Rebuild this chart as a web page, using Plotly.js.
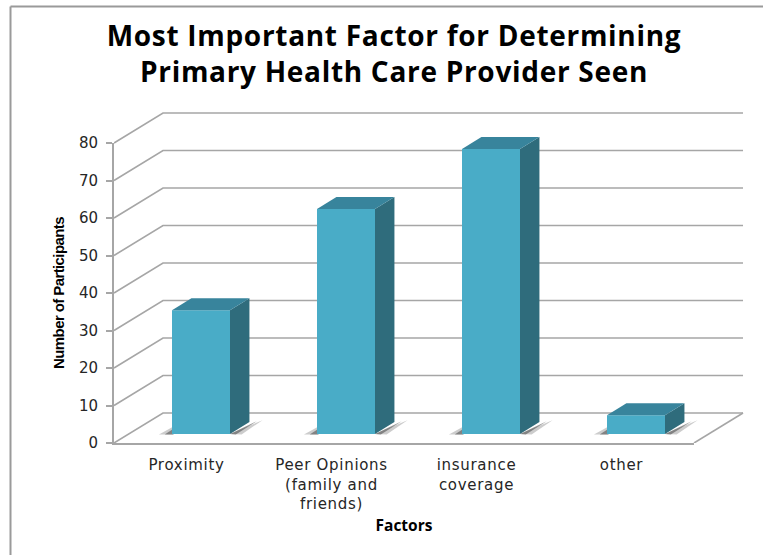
<!DOCTYPE html>
<html>
<head>
<meta charset="utf-8">
<script src="https://cdn.plot.ly/plotly-3.0.1.min.js"></script>
<style>html,body{margin:0;padding:0;background:#fff;overflow:hidden}</style>
</head>
<body>
<div id="chart" style="width:763px;height:555px"></div>
<script>
var categories = ["Proximity", "Peer Opinions<br>(family and<br>friends)", "insurance<br>coverage", "other"];
var values = [33, 60, 76, 5];
var yTicks = [0, 10, 20, 30, 40, 50, 60, 70, 80];
var positions = [0, 1, 2, 3];
var titleLines = ["Most Important Factor for Determining", "Primary Health Care Provider Seen"];

// Oblique projection of the depth axis, in axis units
var wallDx = 0.338, wallDy = 8;
var barOffset = 0.1, barBase = 2.4, barHalf = 0.2, barDx = 0.134, barDy = 3.2;
var xRange = [-0.5, 3.5], yRange = [0, 80];
var gridColor = "#a6a6a6", front = "#49acc7", side = "#2f6c7c", top_ = "#38849c";
var shadowLight = "rgba(170,170,170,0.6)", shadowDark = "rgba(90,90,90,0.65)";

// Pixel frame
var W = 763, H = 555, mL = 114, mR = 13, mT = 100, mB = 112;
var pw = W - mL - mR, ph = H - mT - mB;
var axisW = 580, axisH = 300;
var wideX = [xRange[0], xRange[0] + (xRange[1] - xRange[0]) * pw / axisW];
var wideY = [yRange[0], yRange[1] * ph / axisH];

function px(x) { return (x - mL) / pw; }
function py(y) { return (H - mB - y) / ph; }

function poly(xs, ys, color, xa, ya) {
  return {type: "scatter", mode: "lines", x: xs.concat(xs[0]), y: ys.concat(ys[0]), fill: "toself",
    fillcolor: color, line: {width: 0, color: color}, hoverinfo: "skip", showlegend: false, xaxis: xa, yaxis: ya};
}

var traces = [];
// Carrier of the visible axes (invisible markers)
traces.push({type: "scatter", mode: "markers", x: positions, y: values, marker: {opacity: 0},
  hoverinfo: "skip", showlegend: false, xaxis: "x", yaxis: "y"});

// Wall gridlines: on the wide frame, below the bars
yTicks.forEach(function (v) {
  traces.push({type: "scatter", mode: "lines", showlegend: false, hoverinfo: "skip", xaxis: "x2", yaxis: "y2",
    x: [xRange[0], xRange[0] + wallDx, xRange[1] + wallDx],
    y: [v, v + wallDy, v + wallDy], line: {color: gridColor, width: 1.6}});
});
traces.push({type: "scatter", mode: "lines", showlegend: false, hoverinfo: "skip", xaxis: "x2", yaxis: "y2",
  x: [xRange[1], xRange[1] + wallDx], y: [0, wallDy], line: {color: gridColor, width: 1.6}});

// Floor shadows
positions.forEach(function (p, i) {
  var l = p + barOffset - barHalf, r = p + barOffset + barHalf, b = barBase;
  traces.push(poly([l - 0.09, l + 0.01, l + 0.01], [b - 0.1, b + 2.0, b - 0.1], shadowLight, "x2", "y2"));
  traces.push(poly([l - 0.05, l + 0.01, l + 0.01], [b - 0.1, b + 1.4, b - 0.1], shadowDark, "x2", "y2"));
  traces.push(poly([r, r + barDx + 0.09, r + 0.08], [b, b + barDy + 0.5, b - 0.1], shadowLight, "x2", "y2"));
  traces.push(poly([r, r + barDx + 0.05, r + 0.04], [b, b + barDy + 0.2, b - 0.1], shadowDark, "x2", "y2"));
});

// Front faces
traces.push({type: "bar", x: positions.map(function (p) { return p + barOffset; }), y: values, base: barBase,
  width: barHalf * 2, marker: {color: front, line: {width: 0}}, xaxis: "x3", yaxis: "y3",
  showlegend: false, hovertemplate: "%{y}<extra></extra>"});

// Side and top faces
positions.forEach(function (p, i) {
  var l = p + barOffset - barHalf, r = p + barOffset + barHalf, b = barBase, t = barBase + values[i];
  traces.push(poly([r, r + barDx, r + barDx, r], [b, b + barDy, t + barDy, t], side, "x3", "y3"));
  traces.push(poly([l, l + barDx, r + barDx, r], [t, t + barDy, t + barDy, t], top_, "x3", "y3"));
});

function spaced(text, s) { return '<span style="letter-spacing:' + s + 'px">' + text + '</span>'; }

var layout = {
  width: W, height: H, showlegend: false, paper_bgcolor: "#fff", plot_bgcolor: "rgba(0,0,0,0)",
  margin: {l: mL, r: mR, t: mT, b: mB, pad: 0},
  font: {family: "'DejaVu Sans', sans-serif", color: "#262626"},
  title: {text: titleLines.map(function (t) { return spaced(t, 0.7); }).join("<br>"),
    x: 394 / W, xanchor: "center", y: 1 - 46 / H, yanchor: "middle",
    font: {family: "'Open Sans', sans-serif", size: 28, weight: 700, color: "#000"}},
  xaxis: {domain: [0, axisW / pw], range: xRange, tickvals: positions,
    ticktext: categories.map(function (c) { return c.split("<br>").map(function (t) { return spaced(t, 0.7); }).join("<br>"); }),
    ticks: "", showgrid: false, zeroline: false,
    showline: true, linecolor: gridColor, linewidth: 2, ticklabelstandoff: 7, anchor: "y",
    tickfont: {size: 15, color: "#262626"},
    title: {text: "Factors", standoff: 8, font: {family: "'Open Sans', sans-serif", size: 15.5, weight: 700, color: "#000"}}},
  yaxis: {domain: [0, axisH / ph], range: yRange, tickvals: yTicks, ticks: "outside", ticklen: 6, tickwidth: 1.6, tickcolor: gridColor,
    showgrid: false, zeroline: false, showline: true, linecolor: gridColor, linewidth: 2, ticklabelstandoff: 5, anchor: "x",
    tickfont: {size: 15, color: "#262626"},
    title: {text: spaced("Number of Participants", -0.6), standoff: 11,
      font: {family: "'Liberation Sans', sans-serif", size: 15, weight: 700, color: "#000"}}},
  xaxis2: {domain: [0, 1], range: wideX, visible: false, anchor: "y2"},
  yaxis2: {domain: [0, 1], range: wideY, visible: false, anchor: "x2"},
  xaxis3: {range: wideX, overlaying: "x2", visible: false, anchor: "y3"},
  yaxis3: {range: wideY, overlaying: "y2", visible: false, anchor: "x3"},
  shapes: [
    {type: "line", xref: "paper", yref: "paper", x0: px(10.5), x1: px(10.5), y0: py(6.5), y1: py(555), line: {color: "#9a9a9a", width: 2}},
    {type: "line", xref: "paper", yref: "paper", x0: px(10.5), x1: px(763), y0: py(6.5), y1: py(6.5), line: {color: "#9a9a9a", width: 2}}
  ]
};
Plotly.newPlot("chart", traces, layout, {displayModeBar: false});
</script>
</body>
</html>
